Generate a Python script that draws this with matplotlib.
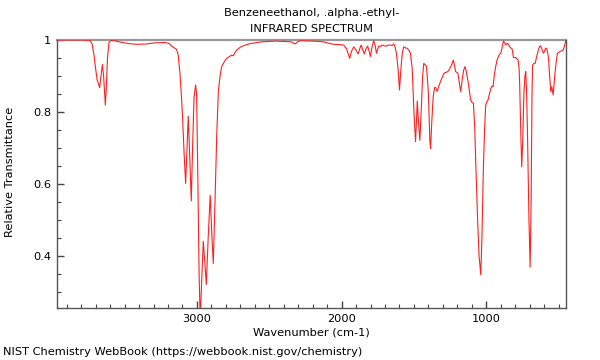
import matplotlib
matplotlib.use("Agg")
import matplotlib.pyplot as plt
from matplotlib.ticker import MultipleLocator, FuncFormatter

title_name = "Benzeneethanol, .alpha.-ethyl-"
title_kind = "INFRARED SPECTRUM"
x_label = "Wavenumber (cm-1)"
y_label = "Relative Transmittance"
footer = "NIST Chemistry WebBook (https://webbook.nist.gov/chemistry)"

x_ticks = [3000, 2000, 1000]
y_ticks = [0.4, 0.6, 0.8, 1.0]

wavenumber = [
    3967, 3800, 3740, 3725, 3712, 3700, 3690, 3672, 3663, 3653, 3645, 3638, 3633, 3627, 3618, 3608,
    3595, 3580, 3540, 3500, 3450, 3409, 3350, 3291, 3222, 3190, 3175, 3152, 3141, 3130, 3118, 3105,
    3099, 3088, 3078, 3070, 3060, 3050, 3039, 3030, 3020, 3009, 3002, 2993, 2985, 2977, 2968, 2956,
    2945, 2935, 2922, 2908, 2897, 2887, 2875, 2863, 2852, 2840, 2829, 2810, 2794, 2770, 2759, 2748,
    2737, 2725, 2700, 2679, 2633, 2550, 2450, 2350, 2321, 2300, 2286, 2200, 2125, 2080, 2055, 2010,
    1986, 1965, 1944, 1930, 1916, 1900, 1886, 1875, 1865, 1855, 1843, 1832, 1820, 1810, 1801, 1790,
    1778, 1768, 1759, 1750, 1743, 1730, 1720, 1705, 1690, 1677, 1667, 1650, 1639, 1630, 1621, 1610,
    1600, 1590, 1580, 1570, 1558, 1547, 1535, 1524, 1512, 1500, 1489, 1483, 1477, 1470, 1459, 1450,
    1440, 1432, 1420, 1413, 1400, 1390, 1385, 1377, 1367, 1357, 1351, 1339, 1328, 1316, 1300, 1293,
    1280, 1270, 1260, 1252, 1240, 1228, 1220, 1212, 1204, 1196, 1186, 1177, 1168, 1157, 1147, 1137,
    1126, 1117, 1108, 1098, 1089, 1080, 1073, 1060, 1050, 1038, 1030, 1020, 1012, 1004, 996, 988,
    978, 969, 960, 953, 945, 935, 925, 912, 900, 890, 881, 873, 866, 858, 850, 840,
    831, 822, 812, 804, 796, 788, 780, 773, 769, 762, 755, 748, 740, 733, 727, 721,
    715, 705, 697, 690, 684, 680, 670, 662, 654, 646, 636, 627, 618, 610, 604, 597,
    590, 583, 576, 570, 562, 554, 547, 538, 531, 524, 515, 508, 495, 485, 477, 469,
    462, 455, 450,
]
transmittance = [
    1.0, 1.0, 0.999, 0.99, 0.96, 0.92, 0.89, 0.867, 0.90, 0.932, 0.90, 0.85, 0.819, 0.86, 0.95, 0.993,
    0.998, 0.999, 0.995, 0.992, 0.989, 0.988, 0.989, 0.992, 0.993, 0.99, 0.983, 0.977, 0.974, 0.96, 0.912, 0.83,
    0.783, 0.68, 0.601, 0.68, 0.788, 0.68, 0.552, 0.70, 0.84, 0.875, 0.85, 0.60, 0.35, 0.22, 0.32, 0.44,
    0.38, 0.32, 0.45, 0.568, 0.46, 0.378, 0.55, 0.735, 0.856, 0.90, 0.926, 0.94, 0.949, 0.955, 0.958, 0.956,
    0.965, 0.972, 0.98, 0.984, 0.99, 0.995, 0.997, 0.995, 0.989, 0.996, 0.998, 0.997, 0.995, 0.99, 0.988, 0.987,
    0.986, 0.975, 0.949, 0.97, 0.981, 0.972, 0.961, 0.975, 0.986, 0.975, 0.961, 0.975, 0.983, 0.97, 0.954, 0.98,
    0.998, 0.985, 0.963, 0.975, 0.983, 0.982, 0.986, 0.984, 0.983, 0.986, 0.986, 0.985, 0.989, 0.98, 0.963, 0.92,
    0.861, 0.92, 0.965, 0.981, 0.978, 0.977, 0.972, 0.963, 0.92, 0.80, 0.717, 0.77, 0.83, 0.78, 0.721, 0.80,
    0.90, 0.935, 0.93, 0.926, 0.85, 0.72, 0.698, 0.77, 0.842, 0.868, 0.868, 0.857, 0.872, 0.885, 0.90, 0.907,
    0.91, 0.911, 0.915, 0.921, 0.93, 0.944, 0.93, 0.912, 0.91, 0.907, 0.88, 0.856, 0.885, 0.915, 0.926, 0.91,
    0.884, 0.86, 0.833, 0.826, 0.824, 0.76, 0.661, 0.50, 0.40, 0.347, 0.45, 0.643, 0.75, 0.819, 0.828, 0.833,
    0.85, 0.865, 0.872, 0.87, 0.90, 0.926, 0.945, 0.958, 0.963, 0.98, 0.997, 0.992, 0.986, 0.99, 0.99, 0.982,
    0.978, 0.976, 0.951, 0.951, 0.951, 0.947, 0.944, 0.92, 0.875, 0.75, 0.647, 0.72, 0.85, 0.90, 0.912, 0.85,
    0.735, 0.50, 0.368, 0.55, 0.85, 0.93, 0.935, 0.935, 0.95, 0.963, 0.978, 0.984, 0.978, 0.968, 0.963, 0.97,
    0.977, 0.977, 0.965, 0.949, 0.90, 0.856, 0.87, 0.847, 0.88, 0.912, 0.945, 0.963, 0.967, 0.969, 0.97, 0.972,
    0.98, 0.99, 1.0,
]

FS = 8.2
AX_L, AX_R, AX_T, AX_B = 57.0, 566.0, 40.0, 308.3
fig = plt.figure(figsize=(6, 3.6), dpi=100)
ax = fig.add_axes([AX_L / 600, 1 - AX_B / 360, (AX_R - AX_L) / 600, (AX_B - AX_T) / 360])

ax.plot(wavenumber, transmittance, color="#ff2020", lw=0.8, zorder=3)
ax.set_xlim(3967, 449)
ax.set_ylim(0.2535, 1.0)

ax.set_xticks(x_ticks)
ax.set_yticks(y_ticks)
ax.xaxis.set_minor_locator(MultipleLocator(100))
ax.yaxis.set_minor_locator(MultipleLocator(0.05))
ax.yaxis.set_major_formatter(FuncFormatter(lambda v, p: "%g" % v))

ax.tick_params(which="both", direction="in", top=False, right=False,
               labelsize=FS, colors="#444444", labelcolor="black")
ax.tick_params(which="major", length=5, width=1, pad=4)
ax.tick_params(which="minor", length=3, width=0.8)

for s in ["left", "bottom", "right"]:
    ax.spines[s].set_color("#555555")
    ax.spines[s].set_linewidth(1.0)
ax.spines["top"].set_color("#999999")
ax.spines["top"].set_linewidth(1.6)
ax.spines["top"].set_zorder(2)

ax.set_xlabel(x_label, fontsize=FS, va="center")
ax.xaxis.set_label_coords(0.5, -(332.7 - AX_B) / (AX_B - AX_T))
ax.set_ylabel(y_label, fontsize=FS, va="center")
ax.yaxis.set_label_coords(-(AX_L - 10) / (AX_R - AX_L), (AX_B - 172) / (AX_B - AX_T))

fig.text(311.5 / 600, 1 - 13 / 360, title_name, ha="center", va="center", fontsize=FS)
fig.text(311.5 / 600, 1 - 29.5 / 360, title_kind, ha="center", va="center", fontsize=FS)
fig.text(3 / 600, 1 - 351.7 / 360, footer, ha="left", va="center", fontsize=FS)

fig.savefig("out.png", dpi=100)
